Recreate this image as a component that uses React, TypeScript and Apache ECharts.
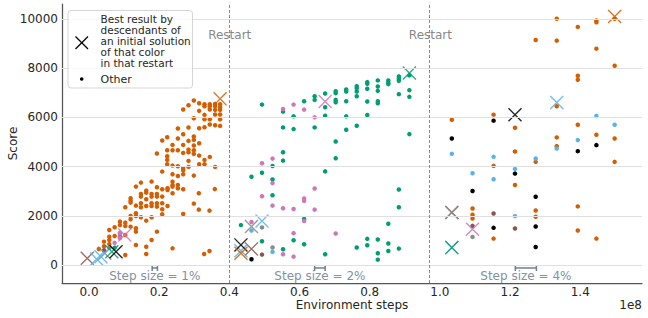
import React, { useEffect, useRef } from 'react';
import * as echarts from 'echarts';

const FONT = 'DejaVu Sans';

const xTicks = [0, 0.2, 0.4, 0.6, 0.8, 1.0, 1.2, 1.4];
const yTicks = [0, 2000, 4000, 6000, 8000, 10000];
const restartX = [0.401, 0.973];
const restartLabel = 'Restart';
const stepBars = [[0.18, 0.195], [0.643, 0.673], [1.215, 1.275]];
const stepLabels = ['Step size = 1%', 'Step size = 2%', 'Step size = 4%'];
const legendLines = ['Best result by', 'descendants of', 'an initial solution', 'of that color', 'in that restart'];
const legendOther = 'Other';

// Restart 1 (orange family)
const orangeDots1 = [
  [0.2987, 6680], [0.3139, 6572], [0.3291, 6531], [0.3291, 6450], [0.3442, 6531], [0.3442, 6450],
  [0.3594, 6545], [0.3594, 6450], [0.3736, 6531], [0.3736, 6396], [0.2684, 6314], [0.2835, 6491],
  [0.3139, 6260], [0.3442, 6314], [0.3594, 6301], [0.3736, 6301], [0.3736, 6111], [0.3291, 6098],
  [0.3291, 5921], [0.3442, 5921], [0.3594, 6111], [0.3736, 5921], [0.2987, 5962], [0.3139, 5556],
  [0.3291, 5596], [0.3442, 5705], [0.3594, 5678], [0.3736, 5650], [0.2532, 5542], [0.2684, 5312],
  [0.2835, 5583], [0.2987, 5217], [0.2987, 5081], [0.3139, 4946], [0.2086, 5054], [0.2228, 5190],
  [0.2532, 5136], [0.238, 4878], [0.2684, 4878], [0.2835, 5041], [0.2987, 4851], [0.1934, 4526],
  [0.2228, 4661], [0.238, 4661], [0.2532, 4661], [0.2684, 4553], [0.2835, 4688], [0.2835, 4580],
  [0.2987, 4661], [0.2987, 4512], [0.3139, 4444], [0.3291, 4268], [0.3442, 4390], [0.2228, 4417],
  [0.2228, 4268], [0.2228, 4092], [0.238, 4038], [0.2532, 4011], [0.2684, 3930], [0.2835, 4228],
  [0.2835, 3984], [0.3139, 4092], [0.3291, 4092], [0.3594, 3984],
  [0.1783, 3388], [0.2086, 3794], [0.238, 3686], [0.2532, 3618], [0.2684, 3848], [0.2684, 3686],
  [0.2987, 3631], [0.1337, 3184], [0.1479, 3347], [0.1631, 3022], [0.1631, 2940], [0.1783, 2886],
  [0.1783, 2778], [0.1935, 3157], [0.1935, 2886], [0.1935, 2778], [0.2086, 3076], [0.2086, 2778],
  [0.2238, 3117], [0.2238, 3049], [0.238, 3388], [0.238, 3252], [0.238, 3184], [0.2532, 3252],
  [0.2532, 3117], [0.238, 2913], [0.2684, 3076], [0.3129, 2913], [0.1185, 2710], [0.1185, 2615],
  [0.1185, 2534], [0.1337, 2412], [0.1479, 2886], [0.1479, 2778], [0.1479, 2507], [0.1631, 2669],
  [0.1631, 2398], [0.1783, 2507], [0.1783, 2398], [0.1935, 2507], [0.1935, 2371], [0.2086, 2507],
  [0.2086, 2263], [0.2238, 2398], [0.2086, 2060], [0.2987, 2493], [0.3129, 2249], [0.3433, 2209],
  [0.2684, 2073], [0.1034, 2344], [0.1185, 1992], [0.1185, 1856], [0.1337, 2100], [0.1337, 1992],
  [0.1479, 2344], [0.1479, 1938], [0.1631, 1802], [0.1783, 1938], [0.1935, 1355], [0.0882, 1762],
  [0.0882, 1626], [0.1034, 1721], [0.1034, 1585], [0.0578, 1423], [0.073, 1531], [0.1185, 1558],
  [0.1337, 1491], [0.1337, 1355], [0.073, 1179], [0.0882, 1287], [0.0882, 1152], [0.1034, 1220],
  [0.0578, 1152], [0.0427, 949], [0.0578, 1016], [0.1783, 1016], [0.1337, 813], [0.1631, 745],
  [0.1631, 447], [0.238, 678], [0.1034, 407], [0.3281, 447], [0.3433, 569], [0.3585, 3083],
  [0.028, 650], [0.0427, 760], [0.0578, 850],
];
// Restart 3 orange
const orangeDots3 = [
  [1.034, 5902], [1.093, 2298], [1.093, 2040], [1.093, 1890], [1.153, 6106], [1.153, 4026],
  [1.153, 1074], [1.214, 5576], [1.214, 4610], [1.214, 3250], [1.273, 9139], [1.273, 4189],
  [1.273, 2217], [1.273, 1958], [1.333, 10000], [1.333, 9112], [1.333, 6446], [1.333, 5182],
  [1.333, 4828], [1.393, 9670], [1.393, 7684], [1.393, 7521], [1.393, 5698], [1.393, 2380],
  [1.393, 1401], [1.446, 9928], [1.446, 9860], [1.446, 8786], [1.446, 5290], [1.446, 1074],
  [1.498, 10000], [1.498, 8092], [1.498, 5141], [1.498, 4189],
];
// Restart 2 green
const greenDots = [
  [0.493, 6515], [0.553, 6229], [0.613, 6651], [0.643, 6856], [0.643, 6706], [0.673, 6965],
  [0.673, 6406], [0.703, 7060], [0.703, 6979], [0.703, 6706], [0.703, 6611], [0.733, 7128],
  [0.733, 7047], [0.733, 6651], [0.763, 7265], [0.763, 7183], [0.763, 7047], [0.763, 6856],
  [0.793, 7428], [0.793, 7360], [0.793, 7156], [0.823, 7497], [0.823, 7251], [0.823, 7074],
  [0.853, 7497], [0.853, 7401], [0.853, 7347], [0.883, 7660], [0.883, 7565], [0.883, 7483],
  [0.913, 7701], [0.913, 7101], [0.913, 6829], [0.883, 6938], [0.793, 6638], [0.823, 6651],
  [0.823, 6570], [0.793, 6093], [0.733, 6038], [0.733, 5493], [0.763, 5656], [0.673, 6065],
  [0.643, 5588], [0.583, 6038], [0.583, 5520], [0.553, 5588], [0.913, 5316], [0.703, 5016],
  [0.703, 4334], [0.673, 3803], [0.553, 4580], [0.553, 4239], [0.523, 4021], [0.493, 3748],
  [0.463, 3585], [0.523, 3476], [0.523, 2835], [0.613, 1867], [0.433, 1622], [0.583, 1009],
  [0.493, 968], [0.553, 641], [0.613, 845], [0.673, 436], [0.763, 709], [0.793, 1063],
  [0.793, 804], [0.823, 1036], [0.823, 477], [0.823, 218], [0.853, 1676], [0.853, 872],
  [0.853, 572], [0.883, 3067], [0.883, 2344], [0.883, 668], [0.073, 700],
];
const pinkDots = [
  [0.553, 6338], [0.583, 6515], [0.613, 6311], [0.643, 5997], [0.523, 4321], [0.493, 4130],
  [0.523, 3326], [0.493, 2794], [0.523, 2413], [0.553, 2303], [0.583, 2276], [0.613, 2699],
  [0.613, 2603], [0.643, 3108], [0.643, 2249], [0.613, 1786], [0.463, 1745], [0.583, 1295],
  [0.553, 436], [0.583, 341], [0.703, 1281], [0.073, 900], [0.088, 1100], [0.088, 1300],
];
const blueDots = [
  [0.463, 1404], [0.523, 532], [1.034, 4515], [1.093, 3726], [1.153, 4393], [1.153, 3482],
  [1.214, 3903], [1.214, 1986], [1.273, 4325], [1.333, 4733], [1.393, 5073], [1.446, 6052],
  [1.498, 5698],
];
const blackDots = [
  [0.463, 232], [1.034, 5141], [1.093, 3006], [1.153, 5862], [1.153, 1510], [1.214, 3713],
  [1.273, 2774], [1.273, 1564], [1.273, 734], [1.393, 4624], [1.446, 4869],
];
const brownDots = [[0.493, 423], [1.093, 1591], [1.153, 2094], [1.214, 1482], [0.043, 600]];
const grayDots = [[0.493, 1527], [0.523, 709], [1.093, 1142], [0.058, 700]];

// Best result markers (X)
const bestBrown = [[-0.005, 272], [0.463, 654], [1.034, 2135]];
const bestGray = [[0.045, 475], [0.463, 1567], [1.034, 2135]];
const bestBlue = [[0.022, 244], [0.034, 337], [0.433, 580], [0.493, 1786], [1.034, 707], [1.333, 6596]];
const bestGreen = [[0.065, 541], [0.913, 7796], [1.034, 707]];
const bestBlack = [[0.077, 541], [0.433, 818], [1.214, 6106]];
const bestPink = [[0.102, 1220], [0.673, 6638], [1.093, 1455]];
const bestOrange = [[0.3736, 6748], [0.433, 477], [1.498, 10091]];

const C = {
  orange: '#d55e00',
  green: '#029e73',
  pink: '#cc78bc',
  blue: '#56b4e9',
  brown: '#8c564b',
  gray: '#8a8a8a',
  black: '#000000',
};

const X_PATH = 'path://M0,7L7,0L100,93L93,100ZM93,0L100,7L7,100L0,93Z';

function dots(data: number[][], color: string) {
  return {
    type: 'scatter', data, symbol: 'circle', symbolSize: 4.5, silent: true, z: 3,
    itemStyle: { color, opacity: 1 },
  };
}
function bests(data: number[][], color: string) {
  return {
    type: 'scatter', data, symbol: X_PATH, symbolSize: 14, silent: true, z: 4,
    itemStyle: { color, opacity: 0.85 },
  };
}

export default function App() {
  const ref = useRef<HTMLDivElement>(null);
  useEffect(() => {
    if (!ref.current) return;
    const chart = echarts.init(ref.current, null, { renderer: 'svg' });
    const textStyle = { fontFamily: FONT, fontSize: 12, color: '#262626' };
    const legendX = 100.5;
    const graphic: any[] = [
      {
        type: 'rect', z: 20,
        shape: { x: 68, y: 10.5, width: 124.5, height: 77.5, r: 3 },
        style: { fill: 'rgba(255,255,255,0.8)', stroke: '#d5d5d5', lineWidth: 1 },
      },
      { type: 'line', z: 21, shape: { x1: 75.5, y1: 36.5, x2: 88, y2: 49 }, style: { stroke: '#000', lineWidth: 1.3 } },
      { type: 'line', z: 21, shape: { x1: 88, y1: 36.5, x2: 75.5, y2: 49 }, style: { stroke: '#000', lineWidth: 1.3 } },
      { type: 'circle', z: 21, shape: { cx: 81.7, cy: 79, r: 1.8 }, style: { fill: '#000' } },
      {
        type: 'text', z: 21, x: legendX, y: 14,
        style: {
          text: legendLines.join('\n'), fill: '#262626', font: `10.5px ${FONT}`, lineHeight: 10.8,
          verticalAlign: 'top', align: 'left',
        },
      },
      {
        type: 'text', z: 21, x: legendX, y: 79,
        style: { text: legendOther, fill: '#262626', font: `11px ${FONT}`, verticalAlign: 'middle', align: 'left' },
      },
      {
        type: 'text', x: 642, y: 305,
        style: { text: '1e8', fill: '#262626', font: `12px ${FONT}`, verticalAlign: 'middle', align: 'right' },
      },
    ];

    const option: any = {
      animation: false,
      textStyle: { fontFamily: FONT },
      grid: { left: 62, right: 6, top: 4, bottom: 35, containLabel: false, outerBoundsMode: 'none' },
      xAxis: {
        type: 'value', min: -0.077, max: 1.576,
        axisLine: { show: true, onZero: false, lineStyle: { color: '#555', width: 1.25 } },
        axisTick: { show: false, customValues: xTicks },
        splitLine: { show: false },
        axisLabel: { customValues: xTicks, formatter: (v: number) => v.toFixed(1), margin: 3, ...textStyle },
        name: 'Environment steps', nameLocation: 'middle', nameGap: 16, nameMoveOverlap: false,
        nameTextStyle: { ...textStyle, verticalAlign: 'top' },
      },
      yAxis: {
        type: 'value', min: -730, max: 10600,
        axisLine: { show: true, onZero: false, lineStyle: { color: '#555', width: 1.25 } },
        axisTick: { show: false, customValues: yTicks },
        splitLine: { show: false },
        axisLabel: { customValues: yTicks, formatter: (v: number) => String(Math.round(v)), margin: 4, ...textStyle },
        name: 'Score', nameLocation: 'middle', nameGap: 43, nameMoveOverlap: false,
        nameTextStyle: { ...textStyle },
      },
      graphic,
      series: [
        {
          type: 'scatter', data: [], silent: true, z: 0,
          markLine: {
            silent: true, symbol: ['none', 'none'], label: { show: false },
            lineStyle: { color: '#e0e0e0', width: 1, type: 'solid' },
            data: yTicks.map((v) => ({ yAxis: v })),
          },
        },
        {
          type: 'scatter', data: [], silent: true, z: 1,
          markLine: {
            silent: true, symbol: ['none', 'none'], label: { show: false },
            lineStyle: { color: '#8a8a8a', width: 1, type: [3, 2] },
            data: restartX.map((v) => ({ xAxis: v })),
          },
        },
        {
          type: 'scatter', silent: true, z: 2, symbolSize: 0,
          data: restartX.map((x) => ({ value: [x, 9350], name: restartLabel })),
          label: { show: true, position: 'inside', formatter: '{b}', fontFamily: FONT, fontSize: 12, color: '#666' },
        },
        {
          type: 'custom', silent: true, z: 2,
          data: stepBars.map((b, i) => [b[0], b[1], -120, i]),
          renderItem: (params: any, api: any) => {
            const a = api.coord([api.value(0), api.value(2)]);
            const b = api.coord([api.value(1), api.value(2)]);
            const idx = api.value(3);
            const col = '#6f7f91';
            return {
              type: 'group',
              children: [
                { type: 'line', shape: { x1: a[0], y1: a[1], x2: b[0], y2: b[1] }, style: { stroke: col, lineWidth: 1.5 } },
                { type: 'line', shape: { x1: a[0], y1: a[1] - 3, x2: a[0], y2: a[1] + 3 }, style: { stroke: col, lineWidth: 1.5 } },
                { type: 'line', shape: { x1: b[0], y1: b[1] - 3, x2: b[0], y2: b[1] + 3 }, style: { stroke: col, lineWidth: 1.5 } },
                {
                  type: 'text', x: (a[0] + b[0]) / 2, y: a[1] + 8.5,
                  style: { text: stepLabels[idx], fill: '#8391a2', font: `12px ${FONT}`, align: 'center', verticalAlign: 'middle' },
                },
              ],
            };
          },
        },
        dots(orangeDots1, C.orange),
        dots(orangeDots3, C.orange),
        dots(greenDots, C.green),
        dots(pinkDots, C.pink),
        dots(blueDots, C.blue),
        dots(blackDots, C.black),
        dots(brownDots, C.brown),
        dots(grayDots, C.gray),
        bests(bestBrown, C.brown),
        bests(bestGray, C.gray),
        bests(bestBlue, C.blue),
        bests(bestGreen, C.green),
        bests(bestBlack, C.black),
        bests(bestPink, C.pink),
        bests(bestOrange, C.orange),
      ],
    };
    chart.setOption(option);
    return () => chart.dispose();
  }, []);
  return <div ref={ref} style={{ width: 648, height: 318, position: 'absolute', left: 0, top: 0 }} />;
}
